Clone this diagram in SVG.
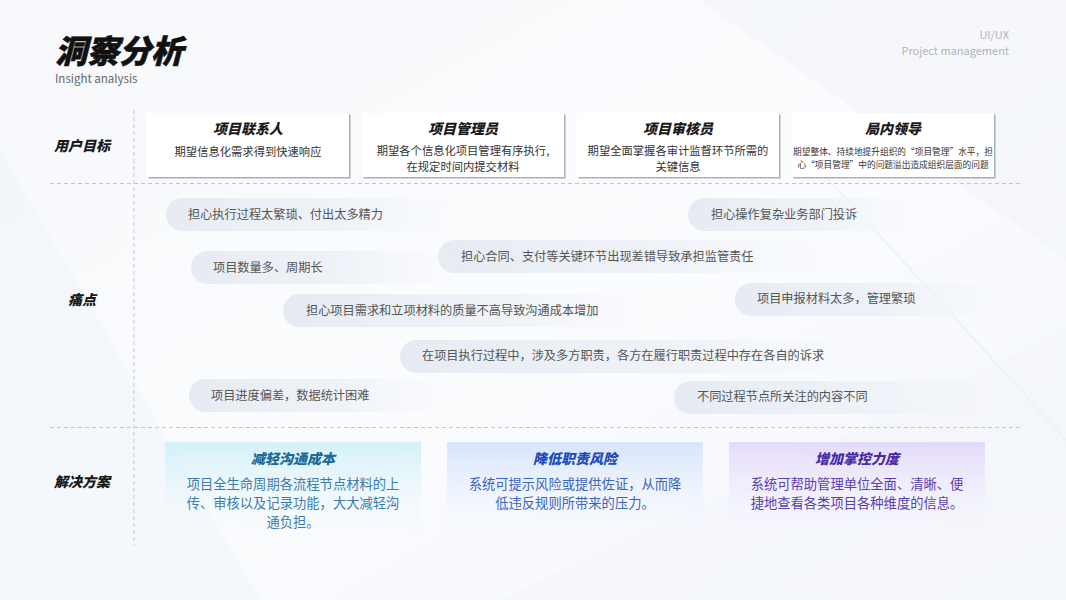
<svg xmlns="http://www.w3.org/2000/svg" width="1066" height="600" viewBox="0 0 1066 600">
<defs>
<linearGradient id="bg" x1="0" y1="0" x2="1" y2="1">
<stop offset="0" stop-color="#f6f8fb"/><stop offset="0.5" stop-color="#fbfcfe"/><stop offset="1" stop-color="#f3f6fb"/>
</linearGradient>
<linearGradient id="pill" x1="0" y1="0" x2="1" y2="0">
<stop offset="0" stop-color="#e6ebf3"/><stop offset="0.6" stop-color="#edf1f7" stop-opacity="0.8"/><stop offset="1" stop-color="#f4f6fa" stop-opacity="0"/>
</linearGradient>
<linearGradient id="g1" x1="0" y1="0" x2="0" y2="1">
<stop offset="0" stop-color="#d3f0f8"/><stop offset="1" stop-color="#f7fafd" stop-opacity="0.2"/>
</linearGradient>
<linearGradient id="g2" x1="0" y1="0" x2="0" y2="1">
<stop offset="0" stop-color="#d6e4fb"/><stop offset="1" stop-color="#f7f9fd" stop-opacity="0.2"/>
</linearGradient>
<linearGradient id="g3" x1="0" y1="0" x2="0" y2="1">
<stop offset="0" stop-color="#e3dafb"/><stop offset="1" stop-color="#f8f8fd" stop-opacity="0.2"/>
</linearGradient>
<filter id="sh" x="-5%" y="-10%" width="112%" height="130%">
<feDropShadow dx="1.5" dy="1.5" stdDeviation="0.6" flood-color="#8a8f99" flood-opacity="0.7"/>
</filter>
<style>
.t{font-family:"Noto Sans CJK SC","Noto Sans",sans-serif}
.h{font-family:"Noto Sans CJK SC",sans-serif;font-weight:900;font-style:italic}
.lbl{font-size:14px;fill:#1a1a1a;text-anchor:middle}
.ct{font-size:14px;fill:#1a1a1a;text-anchor:middle}
.cd{font-size:11.3px;fill:#333;text-anchor:middle}
.pt{font-size:12.2px;fill:#555}
.dash{stroke:#c3c7cd;stroke-width:1;stroke-dasharray:4 3;fill:none}
.card{fill:#fff;filter:url(#sh)}
.sb{font-size:13.3px;text-anchor:middle}
.st{font-size:14px;text-anchor:middle}
</style>
</defs>
<rect width="1066" height="600" fill="url(#bg)"/>
<g opacity="0.5">
<polygon points="0,150 0,600 260,600" fill="#eef3fa"/>
<polygon points="700,0 1066,0 1066,260" fill="#f1f4f9"/>
<polygon points="500,600 1066,330 1066,600" fill="#f3f6fb"/>
<line x1="820" y1="170" x2="1066" y2="440" stroke="#e6ecf5" stroke-width="2"/>
</g>

<g id="header">
<text x="55" y="63" class="h" font-size="32" fill="#111" stroke="#111" stroke-width="0.6">洞察分析</text>
<text x="55" y="83" class="t" font-size="11.5" fill="#666">Insight analysis</text>
<text x="1009" y="39" class="t" font-size="11" fill="#b0b4ba" text-anchor="end">UI/UX</text>
<text x="1009" y="55" class="t" font-size="11" fill="#b0b4ba" text-anchor="end">Project management</text>
</g>

<g id="dividers">
<line class="dash" x1="134" y1="110" x2="134" y2="545"/>
<line class="dash" x1="50" y1="183.5" x2="1020" y2="183.5"/>
<line class="dash" x1="50" y1="427.5" x2="1020" y2="427.5"/>
</g>

<g id="row-labels">
<text x="82" y="151" class="h lbl">用户目标</text>
<text x="82" y="305" class="h lbl">痛点</text>
<text x="82" y="487" class="h lbl">解决方案</text>
</g>

<g id="card1">
<rect class="card" x="147" y="113" width="202" height="64"/>
<text x="248" y="134" class="h ct">项目联系人</text>
<text x="248" y="156" class="t cd">期望信息化需求得到快速响应</text>
</g>
<g id="card2">
<rect class="card" x="362" y="113" width="202" height="64"/>
<text x="463" y="134" class="h ct">项目管理员</text>
<text x="463" y="155" class="t cd">期望各个信息化项目管理有序执行,</text>
<text x="463" y="171" class="t cd">在规定时间内提交材料</text>
</g>
<g id="card3">
<rect class="card" x="577" y="113" width="202" height="64"/>
<text x="678" y="134" class="h ct">项目审核员</text>
<text x="678" y="155" class="t cd">期望全面掌握各审计监督环节所需的</text>
<text x="678" y="171" class="t cd">关键信息</text>
</g>
<g id="card4">
<rect class="card" x="792" y="113" width="202" height="64"/>
<text x="893" y="134" class="h ct">局内领导</text>
<text x="893" y="155" class="t" font-size="8.7" fill="#333" text-anchor="middle">期望整体、持续地提升组织的“项目管理”水平，担</text>
<text x="893" y="168" class="t" font-size="8.7" fill="#333" text-anchor="middle">心“项目管理”中的问题溢出造成组织层面的问题</text>
</g>

<g id="pain1"><rect x="166" y="198" width="300" height="33" rx="16.5" fill="url(#pill)"/><text x="188" y="219" class="t pt">担心执行过程太繁琐、付出太多精力</text></g>
<g id="pain2"><rect x="688" y="198" width="230" height="33" rx="16.5" fill="url(#pill)"/><text x="711" y="219" class="t pt">担心操作复杂业务部门投诉</text></g>
<g id="pain3"><rect x="438" y="240" width="400" height="33" rx="16.5" fill="url(#pill)"/><text x="461" y="261" class="t pt">担心合同、支付等关键环节出现差错导致承担监管责任</text></g>
<g id="pain4"><rect x="191" y="251" width="270" height="33" rx="16.5" fill="url(#pill)"/><text x="213" y="272" class="t pt">项目数量多、周期长</text></g>
<g id="pain5"><rect x="735" y="283" width="280" height="33" rx="16.5" fill="url(#pill)"/><text x="757" y="303" class="t pt">项目申报材料太多，管理繁琐</text></g>
<g id="pain6"><rect x="283" y="294" width="380" height="33" rx="16.5" fill="url(#pill)"/><text x="306" y="315" class="t pt">担心项目需求和立项材料的质量不高导致沟通成本增加</text></g>
<g id="pain7"><rect x="400" y="340" width="490" height="33" rx="16.5" fill="url(#pill)"/><text x="422" y="360" class="t pt">在项目执行过程中，涉及多方职责，各方在履行职责过程中存在各自的诉求</text></g>
<g id="pain8"><rect x="189" y="379" width="270" height="33" rx="16.5" fill="url(#pill)"/><text x="211" y="400" class="t pt">项目进度偏差，数据统计困难</text></g>
<g id="pain9"><rect x="674" y="381" width="350" height="33" rx="16.5" fill="url(#pill)"/><text x="697" y="401" class="t pt">不同过程节点所关注的内容不同</text></g>

<g id="sol1">
<rect x="165" y="442" width="256" height="92" fill="url(#g1)"/>
<text x="293" y="464" class="h st" fill="#1b6a9a">减轻沟通成本</text>
<text x="293" y="489" class="t sb" fill="#3b7cb0">项目全生命周期各流程节点材料的上</text>
<text x="293" y="508" class="t sb" fill="#3b7cb0">传、审核以及记录功能，大大减轻沟</text>
<text x="293" y="527" class="t sb" fill="#3b7cb0">通负担。</text>
</g>
<g id="sol2">
<rect x="447" y="442" width="256" height="92" fill="url(#g2)"/>
<text x="575" y="464" class="h st" fill="#1c4cbf">降低职责风险</text>
<text x="575" y="489" class="t sb" fill="#3a64c2">系统可提示风险或提供佐证，从而降</text>
<text x="575" y="508" class="t sb" fill="#3a64c2">低违反规则所带来的压力。</text>
</g>
<g id="sol3">
<rect x="729" y="442" width="256" height="92" fill="url(#g3)"/>
<text x="857" y="464" class="h st" fill="#4a2aa6">增加掌控力度</text>
<text x="857" y="489" class="t sb" fill="#5a3fb2">系统可帮助管理单位全面、清晰、便</text>
<text x="857" y="508" class="t sb" fill="#5a3fb2">捷地查看各类项目各种维度的信息。</text>
</g>
</svg>
